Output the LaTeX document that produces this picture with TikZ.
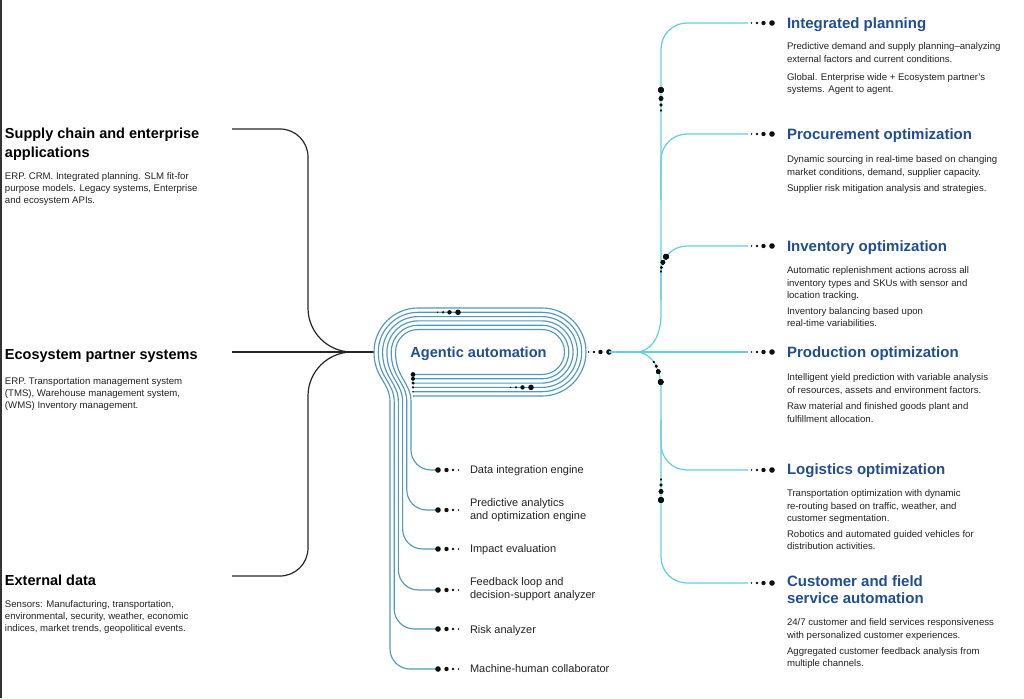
\documentclass[tikz,border=0pt]{standalone}
\usepackage{fontspec}
\setmainfont{Liberation Sans}

\definecolor{headblue}{RGB}{33,78,142}
\definecolor{loopblue}{RGB}{82,152,188}
\definecolor{treecyan}{RGB}{100,208,218}
\definecolor{bodygray}{RGB}{34,34,34}
\definecolor{dotc}{RGB}{15,15,15}

% big dot at (#1,#2), smaller ones trailing off along (#3,#4)
\newcommand{\dottrail}[4]{%
  \foreach \dst/\rds in {0/2.8, 8.5/2.2, 15/1.3, 20.5/0.8}
    \fill[dotc] ({#1+(#3)*\dst},{#2+(#4)*\dst}) circle[radius=\rds];}

\begin{document}
\begin{tikzpicture}
    [x=1pt, y=-1pt, inner sep=0pt, outer sep=0pt,
     brace/.style={draw=black!85, line width=1.2pt},
     loopline/.style={draw=loopblue, line width=1.15pt},
     branch/.style={draw=treecyan, line width=1.25pt},
     srchead/.style={anchor=north west, align=left,
       font=\fontsize{14.5}{19}\selectfont\bfseries},
     srcbody/.style={anchor=north west, align=left, text=bodygray,
       font=\fontsize{9.6}{11.8}\selectfont},
     opthead/.style={anchor=north west, align=left, text=headblue,
       font=\fontsize{15}{17.6}\selectfont\bfseries},
     optbody/.style={anchor=north west, align=left, text=bodygray,
       font=\fontsize{9.6}{12.2}\selectfont},
     engine/.style={anchor=north west, align=left, text=bodygray,
       font=\fontsize{11}{13}\selectfont}]

    \useasboundingbox (0,0) rectangle (1024,698);
    \draw[black!80, line width=1.5pt] (0.75,0) -- (0.75,698);

    % sources
    \node[srchead] (supply) at (5,127.7) {Supply chain and enterprise\\applications};
    \node[srcbody] (supplytxt) at (5,173) {ERP. CRM. Integrated planning. SLM fit-for\\
      purpose models.  Legacy systems, Enterprise\\and ecosystem APIs.};
    \node[srchead] (partner) at (5,349.4) {Ecosystem partner systems};
    \node[srcbody] (partnertxt) at (5,378) {ERP. Transportation management system\\
      (TMS), Warehouse management system,\\(WMS) Inventory management.};
    \node[srchead] (external) at (5,575.4) {External data};
    \node[srcbody] (externaltxt) at (5,601) {Sensors: Manufacturing, transportation,\\
      environmental, security, weather, economic\\indices, market trends, geopolitical events.};

    \coordinate (hub) at (352,352);
    \coordinate (loopin) at (374,352);
    \draw[brace] (232,129) -- (280,129) .. controls (295.5,129) and (308,141.5) .. (308,157)
      -- (308,308) .. controls (308,332.3) and (327.7,352) .. (hub) -- (loopin);
    \draw[brace] (232,576) -- (280,576) .. controls (295.5,576) and (308,563.5) .. (308,548)
      -- (308,396) .. controls (308,371.7) and (327.7,352) .. (hub);
    \draw[brace] (232,352) -- (loopin);

    % the loop and the engines hanging from it
    \foreach \i/\yy in {0/470,1/510,2/549,3/590,4/629,5/669} {
      \pgfmathsetmacro\rad{22.5+4.3*\i}
      \pgfmathsetmacro\vx{411-4.2*\i}
      \pgfmathsetmacro\dr{2.4-0.38*\i}
      \draw[loopline, rounded corners=\rad pt] (413,352+\rad) -- (542+\rad,352+\rad)
        -- (542+\rad,352-\rad) -- (418-\rad,352-\rad) -- (418-\rad,352);
      \draw[loopline] (418-\rad,352) .. controls (418-\rad,378) and (\vx,382) .. (\vx,402)
        [rounded corners=20pt] -- (\vx,\yy) -- (437,\yy);
      \fill[dotc] (413,352+\rad) circle[radius=\dr];
      \dottrail{438}{\yy}{1}{0}
    }
    \node[anchor=base, text=headblue, font=\fontsize{14.6}{17}\selectfont\bfseries]
      (agent) at (478.5,357) {Agentic automation};
    \dottrail{458}{312.3}{-1}{0}
    \dottrail{531}{387.4}{-1}{0}

    \node[engine] (integr) at (470,465.4) {Data integration engine};
    \node[engine] (predict) at (470,498.4) {Predictive analytics\\and optimization engine};
    \node[engine] (impact) at (470,544.4) {Impact evaluation};
    \node[engine] (feedback) at (470,577.4) {Feedback loop and\\decision-support analyzer};
    \node[engine] (risk) at (470,625.4) {Risk analyzer};
    \node[engine] (collab) at (470,664.4) {Machine-human collaborator};

    % optimization tree
    \dottrail{609}{352}{-1}{0}
    \draw[branch] (609,352) -- (636,352) .. controls (650,352) and (661,338) .. (661,314)
      [rounded corners=26pt] -- (661,23) -- (748,23);
    \draw[branch] (609,352) -- (636,352) .. controls (650,352) and (661,366) .. (661,390)
      [rounded corners=26pt] -- (661,583) -- (748,583);
    \draw[branch] (609,352) -- (748,352);
    \draw[branch, rounded corners=26pt] (661,200) -- (661,134) -- (748,134);
    \draw[branch, rounded corners=26pt] (661,300) -- (661,246) -- (748,246);
    \draw[branch, rounded corners=26pt] (661,420) -- (661,470) -- (748,470);
    \foreach \yy in {23,134,246,352,470,583}
      \dottrail{772}{\yy}{-1}{0}
    \dottrail{661}{90}{0}{1}
    \dottrail{661}{500}{0}{-1}
    \foreach \px/\py/\rds in {666/256.7/2.8, 662.9/262.3/2.2, 661.4/267.5/1.3, 661/271.5/0.8,
        660.7/382/2.8, 658.2/371.6/2.2, 656.2/366.2/1.3, 653.7/362/0.8}
      \fill[dotc] (\px,\py) circle[radius=\rds];

    \node[opthead] (plan) at (787,17.2) {Integrated planning};
    \node[optbody] (plantxt) at (787,43) {Predictive demand and supply planning--analyzing\\
      external factors and current conditions.\\[5.8pt]
      Global. Enterprise wide + Ecosystem partner's\\systems. Agent to agent.};
    \node[opthead] (procure) at (787,128.2) {Procurement optimization};
    \node[optbody] (procuretxt) at (787,156) {Dynamic sourcing in real-time based on changing\\
      market conditions, demand, supplier capacity.\\[4pt]
      Supplier risk mitigation analysis and strategies.};
    \node[opthead] (invent) at (787,240.2) {Inventory optimization};
    \node[optbody] (inventtxt) at (787,267) {Automatic replenishment actions across all\\
      inventory types and SKUs with sensor and\\location tracking.\\[4pt]
      Inventory balancing based upon\\real-time variabilities.};
    \node[opthead] (produce) at (787,346.2) {Production optimization};
    \node[optbody] (producetxt) at (787,374) {Intelligent yield prediction with variable analysis\\
      of resources, assets and environment factors.\\[4.5pt]
      Raw material and finished goods plant and\\fulfillment allocation.};
    \node[opthead] (logist) at (787,463.2) {Logistics optimization};
    \node[optbody] (logisttxt) at (787,490) {Transportation optimization with  dynamic\\
      re-routing based on traffic, weather, and\\customer segmentation.\\[4pt]
      Robotics and automated guided vehicles for\\distribution activities.};
    \node[opthead] (custom) at (787,575.2) {Customer and field\\service automation};
    \node[optbody] (customtxt) at (787,619) {24/7 customer and field services responsiveness\\
      with personalized customer experiences.\\[4pt]
      Aggregated customer feedback analysis from\\multiple channels.};
\end{tikzpicture}
\end{document}
